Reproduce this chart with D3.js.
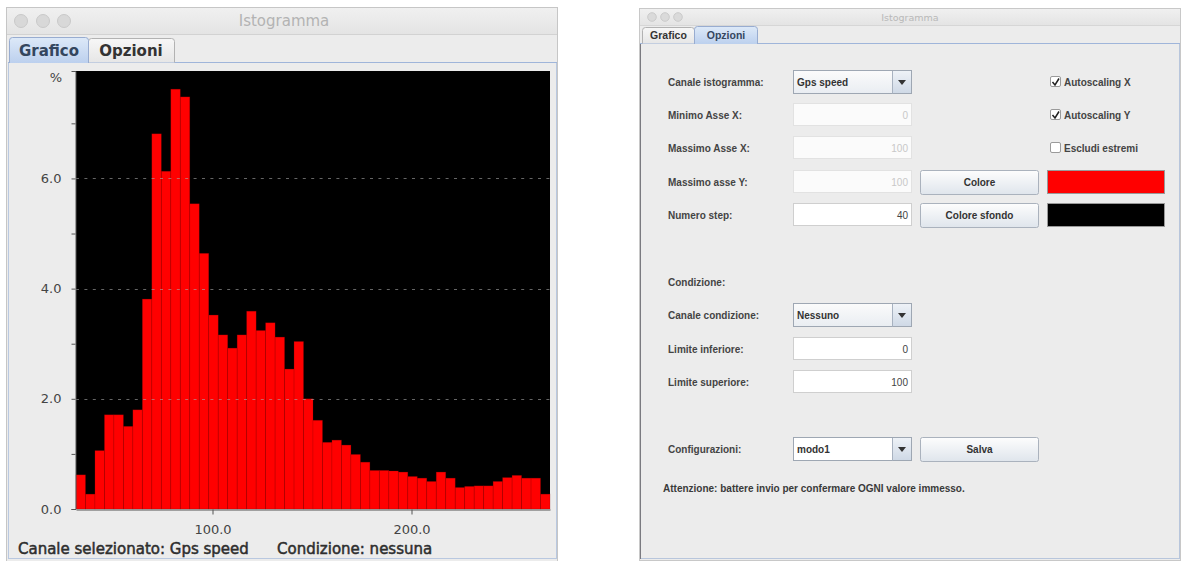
<!DOCTYPE html>
<html><head><meta charset="utf-8">
<script src="https://cdn.jsdelivr.net/npm/d3@7"></script>
<style>html,body{margin:0;padding:0;background:#fff;}svg{display:block;}</style>
</head><body><svg id="c" width="1191" height="561"></svg>
<script>
// ---------------- DATA ----------------
const xMin = 31.4, xMax = 269.6;          // histogram x range (Gps speed)
const yMax = 7.95;                        // y range top (%)
const binPercent = [0.62, 0.27, 1.06, 1.71, 1.71, 1.50, 1.80, 3.81, 6.81, 6.13,
  7.62, 7.48, 5.54, 4.64, 3.52, 3.16, 2.92, 3.16, 3.59, 3.24,
  3.38, 3.12, 2.54, 3.04, 2.00, 1.61, 1.21, 1.25, 1.16, 0.99,
  0.85, 0.70, 0.70, 0.69, 0.67, 0.59, 0.56, 0.50, 0.67, 0.56,
  0.39, 0.41, 0.42, 0.42, 0.50, 0.57, 0.61, 0.56, 0.56, 0.27];
const yTickValues = [0, 1, 2, 3, 4, 5, 6, 7];
const yLabelValues = [0, 2, 4, 6];
const yGridValues = [2, 4, 6];
const xTickValues = [100, 200];
const yUnit = "%";
const windowTitle = "Istogramma";
const tabNames = ["Grafico", "Opzioni"];
const statusTexts = ["Canale selezionato: Gps speed", "Condizione: nessuna"];
const formLabels = ["Canale istogramma:", "Minimo Asse X:", "Massimo Asse X:", "Massimo asse Y:", "Numero step:",
  "Condizione:", "Canale condizione:", "Limite inferiore:", "Limite superiore:", "Configurazioni:"];
const fieldValues = ["0", "100", "100", "40", "0", "100"];
const comboValues = ["Gps speed", "Nessuno", "modo1"];
const checkLabels = ["Autoscaling X", "Autoscaling Y", "Escludi estremi"];
const checkStates = [true, true, false];
const buttonLabels = ["Colore", "Colore sfondo", "Salva"];
const swatchColors = ["#ff0000", "#000000"];
const noteText = "Attenzione: battere invio per confermare OGNI valore immesso.";

// ---------------- SETUP ----------------
const svg = d3.select("#c");
const F = "'DejaVu Sans', sans-serif";
const F2 = "'Liberation Sans', Arial, sans-serif";
const defs = svg.append("defs");
function grad(id, c1, c2) {
  const g = defs.append("linearGradient").attr("id", id).attr("x1", 0).attr("y1", 0).attr("x2", 0).attr("y2", 1);
  g.append("stop").attr("offset", "0%").attr("stop-color", c1);
  g.append("stop").attr("offset", "100%").attr("stop-color", c2);
}
grad("gTitle", "#f0f0f0", "#e4e4e4");
grad("gTabSel", "#dde9f8", "#bcd0ee");
grad("gTab", "#f7f7f7", "#e6e6e6");
grad("gBtn", "#fdfdfd", "#dfe5ec");
grad("gCombo", "#fbfbfb", "#e9edf2");
grad("gArrow", "#eef2f7", "#cfd9e6");

function tabPath(x0, x1, y0, y1) {
  return `M${x0},${y1} L${x0},${y0 + 3} Q${x0},${y0} ${x0 + 3},${y0} L${x1 - 3},${y0} Q${x1},${y0} ${x1},${y0 + 3} L${x1},${y1}`;
}

// ---------------- LEFT WINDOW ----------------
const L = svg.append("g");
L.append("rect").attr("x", 6.5).attr("y", 7.5).attr("width", 551).attr("height", 560)
  .attr("fill", "#ececec").attr("stroke", "#c6c6c6");
L.append("rect").attr("x", 7).attr("y", 8).attr("width", 550).attr("height", 26).attr("fill", "url(#gTitle)");
L.append("line").attr("x1", 7).attr("x2", 557).attr("y1", 34.5).attr("y2", 34.5).attr("stroke", "#d2d2d2");
[21, 43, 64].forEach(cx => L.append("circle").attr("cx", cx).attr("cy", 21).attr("r", 6.5)
  .attr("fill", "#d8d8d8").attr("stroke", "#c9c9c9"));
L.append("text").attr("x", 284).attr("y", 26).attr("text-anchor", "middle").attr("font-family", F)
  .attr("font-size", 15).attr("fill", "#b3b3b3").text(windowTitle);

// content panel
L.append("rect").attr("x", 8.5).attr("y", 62.5).attr("width", 548).attr("height", 496)
  .attr("fill", "#ececec").attr("stroke", "#b9c8e0");
L.append("line").attr("x1", 8).attr("x2", 557).attr("y1", 62.5).attr("y2", 62.5).attr("stroke", "#9fb5da");
// tabs
L.append("path").attr("d", tabPath(88.5, 174.5, 38.5, 62.5)).attr("fill", "url(#gTab)").attr("stroke", "#b2b2b2");
L.append("path").attr("d", tabPath(9.5, 88.5, 37.5, 63)).attr("fill", "url(#gTabSel)").attr("stroke", "#98acd0");
L.append("text").attr("x", 49).attr("y", 56).attr("text-anchor", "middle").attr("font-family", F)
  .attr("font-weight", "bold").attr("font-size", 15).attr("fill", "#34465e").text(tabNames[0]);
L.append("text").attr("x", 131).attr("y", 56).attr("text-anchor", "middle").attr("font-family", F)
  .attr("font-weight", "bold").attr("font-size", 15).attr("fill", "#333").text(tabNames[1]);

// ---------------- CHART ----------------
const plot = {left: 76, right: 550, top: 71, bottom: 509};
const x = d3.scaleLinear().domain([xMin, xMax]).range([plot.left, plot.right]);
const y = d3.scaleLinear().domain([0, yMax]).range([plot.bottom, plot.top]);
const binW = (xMax - xMin) / binPercent.length;
const bins = binPercent.map((v, i) => ({x0: xMin + i * binW, x1: xMin + (i + 1) * binW, v}));

const C = svg.append("g");
C.append("rect").attr("x", plot.left).attr("y", plot.top).attr("width", plot.right - plot.left)
  .attr("height", plot.bottom - plot.top).attr("fill", "#000");
C.selectAll("rect.bar").data(bins).join("rect").attr("class", "bar")
  .attr("x", d => x(d.x0)).attr("width", d => x(d.x1) - x(d.x0))
  .attr("y", d => y(d.v)).attr("height", d => y(0) - y(d.v))
  .attr("fill", "#ff0000").attr("stroke", "rgba(140,0,0,0.28)").attr("stroke-width", 0.8);
C.selectAll("line.grid").data(yGridValues).join("line").attr("class", "grid")
  .attr("x1", plot.left).attr("x2", plot.right).attr("y1", d => Math.round(y(d)) + 0.5).attr("y2", d => Math.round(y(d)) + 0.5)
  .attr("stroke", "#a8a8a8").attr("stroke-opacity", 0.6).attr("stroke-dasharray", "3,5.4");

const yAxis = d3.axisLeft(y).tickValues(yTickValues).tickSize(4).tickSizeOuter(4).tickPadding(10)
  .tickFormat(d => yLabelValues.includes(d) ? d.toFixed(1) : "");
const ya = C.append("g").attr("transform", `translate(${plot.left - 0.5},0)`).call(yAxis);
const xAxis = d3.axisBottom(x).tickValues(xTickValues).tickSize(5).tickSizeOuter(0).tickPadding(10)
  .tickFormat(d => d.toFixed(1));
const xa = C.append("g").attr("transform", `translate(0,${plot.bottom + 0.5})`).call(xAxis);
[ya, xa].forEach(a => {
  a.select(".domain").attr("stroke", "#555");
  a.selectAll(".tick line").attr("stroke", "#555");
  a.selectAll("text").attr("font-family", F).attr("font-size", 13).attr("fill", "#444");
});
C.append("text").attr("x", 62).attr("y", 82).attr("text-anchor", "end").attr("font-family", F)
  .attr("font-size", 13).attr("fill", "#444").text(yUnit);

// status
[[18, statusTexts[0]], [277, statusTexts[1]]].forEach(([sx, t]) =>
  L.append("text").attr("x", sx).attr("y", 554).attr("font-family", F).attr("font-size", 15)
    .attr("fill", "#2e2e2e").attr("stroke", "#2e2e2e").attr("stroke-width", 0.5).text(t));

// ---------------- RIGHT WINDOW ----------------
const R = svg.append("g");
R.append("rect").attr("x", 639.5).attr("y", 8.5).attr("width", 541).attr("height", 552)
  .attr("fill", "#ececec").attr("stroke", "#c8c8c8");
R.append("rect").attr("x", 640).attr("y", 9).attr("width", 540).attr("height", 16).attr("fill", "url(#gTitle)");
R.append("line").attr("x1", 640).attr("x2", 1180).attr("y1", 25.5).attr("y2", 25.5).attr("stroke", "#d6d6d6");
[652, 665, 678].forEach(cx => R.append("circle").attr("cx", cx).attr("cy", 17).attr("r", 4.3)
  .attr("fill", "#dadada").attr("stroke", "#cbcbcb"));
R.append("text").attr("x", 910).attr("y", 21).attr("text-anchor", "middle").attr("font-family", F)
  .attr("font-size", 9.5).attr("fill", "#b8b8b8").text(windowTitle);
R.append("rect").attr("x", 640.5).attr("y", 43.5).attr("width", 539).attr("height", 515)
  .attr("fill", "#ececec").attr("stroke", "#b8c6dc");
R.append("line").attr("x1", 640.5).attr("x2", 640.5).attr("y1", 43).attr("y2", 559).attr("stroke", "#7a7a80");
R.append("line").attr("x1", 640).attr("x2", 1180).attr("y1", 43.5).attr("y2", 43.5).attr("stroke", "#9fb5da");
R.append("path").attr("d", tabPath(642.5, 694.5, 27.5, 43.5)).attr("fill", "url(#gTab)").attr("stroke", "#b2b2b2");
R.append("path").attr("d", tabPath(694.5, 757.5, 26.5, 44)).attr("fill", "url(#gTabSel)").attr("stroke", "#98acd0");
R.append("text").attr("x", 668.5).attr("y", 39).attr("text-anchor", "middle").attr("font-family", F2)
  .attr("font-weight", "bold").attr("font-size", 10.5).attr("fill", "#333").text(tabNames[0]);
R.append("text").attr("x", 726).attr("y", 39).attr("text-anchor", "middle").attr("font-family", F2)
  .attr("font-weight", "bold").attr("font-size", 10.5).attr("fill", "#34465e").text(tabNames[1]);

const rowY = [82, 115, 148, 182, 215, 282, 315, 349, 382, 449];
function label(txt, x0, yc, color) {
  R.append("text").attr("x", x0).attr("y", yc + 3.6).attr("font-family", F2).attr("font-weight", "bold")
    .attr("font-size", 10).attr("fill", color || "#444").text(txt);
}
formLabels.forEach((t, i) => label(t, 668, rowY[i]));

const fx0 = 793, fx1 = 911;
function field(yc, val, enabled) {
  R.append("rect").attr("x", fx0 + 0.5).attr("y", yc - 11.5).attr("width", fx1 - fx0).attr("height", 22)
    .attr("fill", enabled ? "#fff" : "#fbfbfb").attr("stroke", enabled ? "#cfcfcf" : "#e2e2e2");
  R.append("text").attr("x", fx1 - 3).attr("y", yc + 3.6).attr("text-anchor", "end").attr("font-family", F2)
    .attr("font-size", 10).attr("fill", enabled ? "#444" : "#c8c8c8").text(val);
}
field(rowY[1], fieldValues[0], false);
field(rowY[2], fieldValues[1], false);
field(rowY[3], fieldValues[2], false);
field(rowY[4], fieldValues[3], true);
field(rowY[7], fieldValues[4], true);
field(rowY[8], fieldValues[5], true);

function combo(yc, val, white) {
  R.append("rect").attr("x", fx0 + 0.5).attr("y", yc - 11.5).attr("width", fx1 - fx0).attr("height", 23)
    .attr("fill", white ? "#fff" : "url(#gCombo)").attr("stroke", "#9ea7b3");
  R.append("rect").attr("x", 892.5).attr("y", yc - 11).attr("width", fx1 - 892.5).attr("height", 22)
    .attr("fill", "url(#gArrow)");
  R.append("line").attr("x1", 892.5).attr("x2", 892.5).attr("y1", yc - 11).attr("y2", yc + 11.5).attr("stroke", "#a8b2c0");
  R.append("path").attr("d", `M${898},${yc - 2} L${906},${yc - 2} L${902},${yc + 3} Z`).attr("fill", "#333");
  R.append("text").attr("x", 797).attr("y", yc + 3.6).attr("font-family", F2).attr("font-weight", "bold")
    .attr("font-size", 10).attr("fill", "#333").text(val);
}
combo(rowY[0], comboValues[0], false);
combo(rowY[6], comboValues[1], false);
combo(rowY[9], comboValues[2], true);

function button(yc, txt) {
  R.append("rect").attr("x", 920.5).attr("y", yc - 11.5).attr("width", 118).attr("height", 24).attr("rx", 2)
    .attr("fill", "url(#gBtn)").attr("stroke", "#aab2bd");
  R.append("text").attr("x", 979.5).attr("y", yc + 3.6).attr("text-anchor", "middle").attr("font-family", F2)
    .attr("font-weight", "bold").attr("font-size", 10).attr("fill", "#333").text(txt);
}
button(rowY[3], buttonLabels[0]);
button(rowY[4], buttonLabels[1]);
button(rowY[9], buttonLabels[2]);

swatchColors.forEach((c, i) => R.append("rect").attr("x", 1047.5).attr("y", rowY[3 + i] - 11.5)
  .attr("width", 117).attr("height", 23).attr("fill", c).attr("stroke", "#999"));

checkLabels.forEach((t, i) => {
  const yc = rowY[i];
  R.append("rect").attr("x", 1050.5).attr("y", yc - 5.5).attr("width", 10).attr("height", 10).attr("rx", 1.5)
    .attr("fill", "#fff").attr("stroke", "#9a9a9a");
  if (checkStates[i]) R.append("path").attr("d", `M${1052.5},${yc} L${1055},${yc + 3} L${1059},${yc - 3.5}`)
    .attr("fill", "none").attr("stroke", "#222").attr("stroke-width", 1.5);
  label(t, 1064, yc);
});

label(noteText, 663, 488, "#3a3a3a");
</script></body></html>
